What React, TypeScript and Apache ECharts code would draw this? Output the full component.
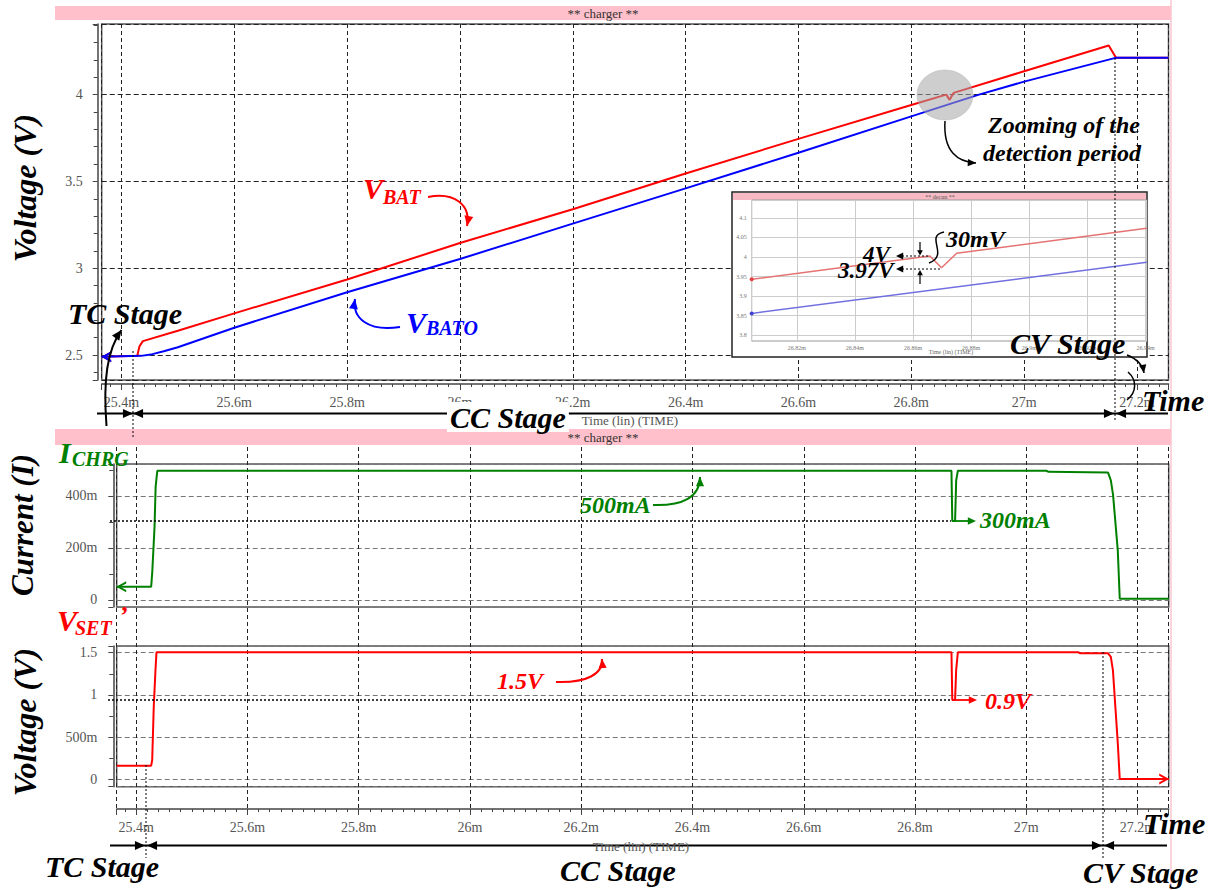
import { useEffect, useRef } from 'react';
import * as echarts from 'echarts';

// ---------- data ----------
const TIME_MIN = 25.365;
const TIME_MAX = 27.256;
const TIME_STEP = 0.2;

// top panel: battery voltages (V) vs time (ms)
const vbatTime = [25.365, 25.428, 25.432, 25.438, 25.5, 25.6, 25.8, 26.0, 26.2, 26.4, 26.6, 26.8, 26.862, 26.868, 26.875, 27.0, 27.15, 27.163, 27.256];
const vbatValue = [2.49, 2.495, 2.55, 2.58, 2.64, 2.74, 2.935, 3.145, 3.34, 3.546, 3.745, 3.94, 4.0, 3.97, 4.01, 4.135, 4.283, 4.212, 4.212];
const vbatoTime = [25.365, 25.435, 25.455, 25.475, 25.5, 25.6, 25.8, 26.0, 26.2, 26.4, 26.6, 26.8, 26.92, 27.0, 27.162, 27.256];
const vbatoValue = [2.49, 2.495, 2.505, 2.522, 2.545, 2.657, 2.862, 3.053, 3.257, 3.46, 3.665, 3.875, 4.0, 4.075, 4.212, 4.212];

// middle panel: charge current (A)
const ichrgTime = [25.365, 25.427, 25.429, 25.433, 25.435, 25.438, 26.8655, 26.867, 26.872, 26.874, 26.877, 27.036, 27.04, 27.147, 27.152, 27.156, 27.1645, 27.168, 27.256];
const ichrgValue = [0.051, 0.051, 0.11, 0.28, 0.436, 0.497, 0.497, 0.304, 0.304, 0.46, 0.497, 0.497, 0.493, 0.49, 0.46, 0.404, 0.19, 0.005, 0.005];

// bottom panel: VSET' (V)
const vsetTime = [25.365, 25.427, 25.4288, 25.4316, 25.4347, 25.4365, 26.8655, 26.867, 26.872, 26.874, 26.877, 27.094, 27.097, 27.147, 27.152, 27.1557, 27.1645, 27.168, 27.256];
const vsetValue = [0.161, 0.161, 0.229, 0.86, 1.295, 1.505, 1.505, 0.94, 0.94, 1.3, 1.505, 1.505, 1.493, 1.493, 1.45, 1.295, 0.427, 0.003, 0.003];

// inset: zoom of the detection period
const INSET_T_MIN = 26.8045;
const INSET_T_MAX = 26.9404;
const insetRedTime = [26.8045, 26.8658, 26.8698, 26.875, 26.9404];
const insetRedValue = [3.943, 4.0026, 3.9726, 4.0095, 4.0736];
const insetBlueTime = [26.8045, 26.9404];
const insetBlueValue = [3.8556, 3.9864];

// axis ranges
const topY = { min: 2.356, max: 4.407, step: 0.5 };
const curY = { min: -0.027, max: 0.523, step: 0.2 };
const setY = { min: -0.088, max: 1.58, step: 0.5 };
const insetY = { min: 3.785, max: 4.146, step: 0.05 };

// ---------- helpers ----------
const SERIF = '"Liberation Serif", "Times New Roman", serif';
const zip = (t: number[], v: number[]) => t.map((x, i) => [x, v[i]]);
const fmtTime = (v: number) => `${parseFloat(v.toFixed(2))}m`;
const fmtSI = (v: number) => {
  if (Math.abs(v) < 1e-9) return '0';
  if (Math.abs(v) < 1) return `${Math.round(v * 1000)}m`;
  return `${parseFloat(v.toFixed(3))}`;
};

const LEFT_ARROW = 'path://M10,0L1,5L10,10L10,8L4.5,5L10,2Z';
const RIGHT_ARROW = 'path://M0,0L9,5L0,10L0,8L5.5,5L0,2Z';

function withEndArrow(points: number[][], where: 'start' | 'end', color: string) {
  return points.map((p, i) => {
    const isTarget = where === 'start' ? i === 0 : i === points.length - 1;
    if (!isTarget) return { value: p };
    return {
      value: p,
      symbol: where === 'start' ? LEFT_ARROW : RIGHT_ARROW,
      symbolSize: [10, 11],
      symbolOffset: [where === 'start' ? 4.5 : -4.5, 0],
      itemStyle: { color },
    };
  });
}

function buildGraphics() {
  const G: any[] = [];
  const T = (x: number, y: number, text: string, size: number, color = '#000', o: any = {}) =>
    G.push({
      type: 'text', x, y, z: o.z ?? 50, rotation: o.rot ?? 0,
      style: {
        text, fill: color, fontFamily: SERIF, fontSize: size,
        fontWeight: o.weight ?? 'bold', fontStyle: o.style ?? 'italic',
        align: o.align ?? 'left', verticalAlign: o.va ?? 'middle',
        backgroundColor: o.bg, padding: o.pad,
      },
    });
  const L = (x1: number, y1: number, x2: number, y2: number, color = '#000', width = 1.5, dash?: number[], z = 40) =>
    G.push({ type: 'line', z, shape: { x1, y1, x2, y2 }, style: { stroke: color, lineWidth: width, lineDash: dash } });
  const head = (x: number, y: number, deg: number, color = '#000', size = 9, spread = 0.42, z = 41) => {
    const a = (deg * Math.PI) / 180;
    G.push({
      type: 'polygon', z,
      shape: { points: [[x, y], [x - size * Math.cos(a - spread), y - size * Math.sin(a - spread)], [x - size * Math.cos(a + spread), y - size * Math.sin(a + spread)]] },
      style: { fill: color },
    });
  };
  const curve = (x1: number, y1: number, c1x: number, c1y: number, c2x: number, c2y: number, x2: number, y2: number, color: string, width = 2, arrow = true, size = 10) => {
    G.push({ type: 'bezierCurve', z: 40, shape: { x1, y1, cpx1: c1x, cpy1: c1y, cpx2: c2x, cpy2: c2y, x2, y2 }, style: { stroke: color, lineWidth: width, fill: null } });
    if (arrow) head(x2, y2, (Math.atan2(y2 - c2y, x2 - c2x) * 180) / Math.PI, color, size);
  };

  // frame edge
  L(1171, 0, 1171, 890, '#f6c9d0', 1.5, undefined, 1);

  // pink title bars
  G.push({ type: 'rect', z: 1, shape: { x: 55, y: 6, width: 1116, height: 14 }, style: { fill: '#ffc0cb' } });
  T(603, 13.5, '** charger **', 13, '#333', { weight: 'normal', style: 'normal', align: 'center' });
  G.push({ type: 'rect', z: 1, shape: { x: 55, y: 429, width: 1116, height: 16 }, style: { fill: '#ffc0cb' } });
  T(603, 437.5, '** charger **', 13, '#333', { weight: 'normal', style: 'normal', align: 'center' });

  // ----- top panel annotations -----
  T(25, 188, 'Voltage (V)', 32, '#000', { rot: Math.PI / 2, align: 'center' });
  T(68, 313, 'TC Stage', 30);
  curve(106.5, 426, 103, 380, 107, 350, 121.5, 330, '#000', 2, true, 11);

  T(363, 188, 'V', 30, '#f00');
  T(383, 197, 'BAT', 20, '#f00');
  curve(428, 197, 455, 192, 471, 205, 467, 226, '#f00', 2, true, 11);

  T(406, 322, 'V', 30, '#00f');
  T(426, 328, 'BATO', 20, '#00f');
  curve(400, 327, 368, 332, 352, 318, 355, 299, '#00f', 2, true, 11);

  // detection circle
  G.push({ type: 'ellipse', z: 6, shape: { cx: 945, cy: 95, rx: 28, ry: 25 }, style: { fill: 'rgba(165,165,165,0.55)', stroke: 'rgba(150,150,150,0.6)', lineWidth: 0.5 } });
  T(988, 125, 'Zooming of the', 24);
  T(983, 153, 'detection period', 24);
  curve(945, 121, 943, 152, 958, 162, 976, 163, '#000', 1.5, true, 9);

  // stage arrows (top)
  L(97, 413.5, 1168, 413.5, '#000', 2);
  head(133, 413.5, 0, '#000', 11);
  head(133, 413.5, 180, '#000', 11);
  head(1114, 413.5, 0, '#000', 11);
  head(1116, 413.5, 180, '#000', 11);
  L(133, 351, 133, 437, '#000', 1, [2, 2]);
  L(1115, 58, 1115, 421, '#000', 1, [2, 2]);
  T(447, 417, 'CC Stage', 30, '#000', { bg: '#fff', pad: [0, 3, 0, 3] });
  T(630, 420, 'Time (lin) (TIME)', 13, '#555', { weight: 'normal', style: 'normal', align: 'center', z: 51 });
  T(1010, 343, 'CV Stage', 30);
  curve(1127, 355, 1140, 360, 1143, 367, 1144, 373, '#000', 1.5, true, 9);
  curve(1128, 372, 1137, 380, 1137, 392, 1127, 400, '#000', 1.5, false);
  T(1142, 400, 'Time', 30);

  // ----- inset frame -----
  G.push({ type: 'rect', z: 9, shape: { x: 732, y: 192, width: 415, height: 165 }, style: { fill: '#fff', stroke: '#222', lineWidth: 1.5 } });
  G.push({ type: 'rect', z: 9, shape: { x: 733, y: 193, width: 413, height: 7 }, style: { fill: '#f7b9c4' } });
  T(940, 196.5, '** decun **', 6, '#555', { weight: 'normal', style: 'normal', align: 'center', z: 13 });
  T(951, 352, 'Time (lin) (TIME)', 6, '#666', { weight: 'normal', style: 'normal', align: 'center', z: 13 });
  // inset annotations
  T(863, 254, '4V', 23, '#000', { z: 60 });
  T(838, 270, '3.97V', 23, '#000', { z: 60 });
  T(946, 239, '30mV', 24, '#000', { z: 60 });
  L(898, 256, 928, 256, '#000', 1.2, [2, 2], 60);
  head(896, 256, 180, '#000', 8, 0.45, 61);
  L(898, 269, 942, 269, '#000', 1.2, [2, 2], 60);
  head(896, 269, 180, '#000', 8, 0.45, 61);
  L(920, 242, 920, 254, '#000', 1.2, undefined, 60);
  head(920, 255.5, 90, '#000', 6, 0.5, 61);
  L(920, 284, 920, 272, '#000', 1.2, undefined, 60);
  head(920, 270, -90, '#000', 6, 0.5, 61);
  G.push({ type: 'bezierCurve', z: 60, shape: { x1: 944, y1: 232, cpx1: 924, cpy1: 236, cpx2: 950, cpy2: 255, x2: 929, y2: 263 }, style: { stroke: '#000', lineWidth: 1.5, fill: null } });

  // ----- middle panel annotations -----
  T(22, 525, 'Current (I)', 31, '#000', { rot: Math.PI / 2, align: 'center' });
  T(59, 452, 'I', 30, '#008000');
  T(72, 459, 'CHRG', 20, '#008000');
  L(110, 521, 951, 521, '#000', 1.5, [2, 2], 30);
  T(580, 505, '500mA', 24, '#008000');
  curve(653, 505, 683, 506, 700, 497, 700, 477, '#008000', 2, true, 10);
  L(953, 521, 970, 521, '#008000', 1.8);
  head(976, 521, 0, '#008000', 9);
  T(980, 520, '300mA', 24, '#008000');

  // ----- bottom panel annotations -----
  T(25, 722, 'Voltage (V)', 32, '#000', { rot: Math.PI / 2, align: 'center' });
  T(57, 620, 'V', 30, '#f00');
  T(75, 628, 'SET', 20, '#f00');
  T(119, 615, '’', 26, '#f00');
  L(108, 700, 952, 700, '#000', 1.5, [2, 2], 30);
  T(497, 681, '1.5V', 24, '#f00');
  curve(556, 682, 587, 683, 603, 674, 602, 659, '#f00', 2, true, 10);
  L(954, 700, 971, 700, '#f00', 1.8);
  head(977, 700, 0, '#f00', 9);
  T(985, 701, '0.9V', 24, '#f00');

  // stage arrows (bottom)
  L(146, 765, 146, 858, '#000', 1, [2, 2]);
  L(1103, 652, 1103, 858, '#000', 1, [2, 2]);
  L(110, 845.5, 1167, 845.5, '#000', 2);
  head(145, 845.5, 0, '#000', 11);
  head(147, 845.5, 180, '#000', 11);
  head(1102, 845.5, 0, '#000', 11);
  head(1104, 845.5, 180, '#000', 11);
  T(641, 846, 'Time (lin) (TIME)', 13, '#555', { weight: 'normal', style: 'normal', align: 'center', z: 51 });
  T(45, 866, 'TC Stage', 30);
  T(560, 870, 'CC Stage', 30);
  T(1083, 872, 'CV Stage', 30);
  T(1143, 823, 'Time', 30);
  return G;
}

function buildOption(): any {
  const labelBase = { color: '#555', fontFamily: SERIF, fontSize: 14 };
  const hiddenAxis = (gridIndex: number, min: number, max: number) => ({
    gridIndex, type: 'value', min, max, show: false,
  });
  const timeAxis = (gridIndex: number, offset: number) => ({
    gridIndex, type: 'value', min: TIME_MIN, max: TIME_MAX, minInterval: TIME_STEP, maxInterval: TIME_STEP,
    position: 'bottom', offset,
    axisLine: { show: true, onZero: false, lineStyle: { color: '#444', width: 1.5 } },
    axisTick: { show: true, length: 6, lineStyle: { color: '#444' } },
    minorTick: { show: true, splitNumber: 10, length: 3, lineStyle: { color: '#444' } },
    axisLabel: { ...labelBase, margin: 11, formatter: fmtTime, showMinLabel: false, showMaxLabel: false },
    splitLine: { show: true, lineStyle: { color: '#222', type: [4, 3], width: 1 } },
  });
  const valueAxis = (gridIndex: number, r: { min: number; max: number; step: number }, minorSplit: number, gridColor: string, offset: number, margin: number) => ({
    gridIndex, type: 'value', min: r.min, max: r.max, minInterval: r.step, maxInterval: r.step, offset,
    axisLine: { show: true, onZero: false, lineStyle: { color: '#444', width: 1.5 } },
    axisTick: { show: true, length: 5, lineStyle: { color: '#444' } },
    minorTick: { show: true, splitNumber: minorSplit, length: 4, lineStyle: { color: '#444' } },
    axisLabel: { ...labelBase, margin, formatter: fmtSI, showMinLabel: false, showMaxLabel: false },
    splitLine: { show: true, lineStyle: { color: gridColor, type: [5, 3], width: 1.2 } },
  });

  return {
    animation: false,
    backgroundColor: '#fff',
    grid: [
      { left: 101.7, top: 24, width: 1066.8, height: 356, show: true, borderColor: '#555', borderWidth: 1.5, backgroundColor: '#fff' },
      { left: 116.7, top: 447, width: 1052, height: 362, show: false },
      { left: 116.7, top: 464, width: 1052, height: 143, show: true, borderColor: '#555', borderWidth: 1.5 },
      { left: 116.7, top: 646, width: 1052, height: 140.7, show: true, borderColor: '#555', borderWidth: 1.5 },
      { left: 751.7, top: 200, width: 395, height: 141, show: true, z: 10, borderColor: '#999', borderWidth: 1, backgroundColor: '#fff' },
    ],
    xAxis: [
      timeAxis(0, 4),
      timeAxis(1, 0),
      hiddenAxis(2, TIME_MIN, TIME_MAX),
      hiddenAxis(3, TIME_MIN, TIME_MAX),
      {
        gridIndex: 4, type: 'value', min: INSET_T_MIN, max: INSET_T_MAX, minInterval: 0.02, maxInterval: 0.02, z: 11,
        axisLine: { show: false }, axisTick: { show: false },
        axisLabel: { color: '#777', fontFamily: SERIF, fontSize: 6, margin: 4, formatter: fmtTime, showMinLabel: false, showMaxLabel: false },
        splitLine: { show: true, lineStyle: { color: '#ccc', width: 1 } },
      },
    ],
    yAxis: [
      valueAxis(0, topY, 5, '#222', 4, 15),
      hiddenAxis(1, 0, 1),
      valueAxis(2, curY, 2, '#777', 3.4, 16),
      valueAxis(3, setY, 2, '#777', 3.4, 16),
      {
        gridIndex: 4, type: 'value', min: insetY.min, max: insetY.max, minInterval: insetY.step, maxInterval: insetY.step, z: 11,
        axisLine: { show: false }, axisTick: { show: false },
        axisLabel: { color: '#777', fontFamily: SERIF, fontSize: 6, margin: 5, formatter: (v: number) => `${parseFloat(v.toFixed(2))}`, showMinLabel: false, showMaxLabel: false },
        splitLine: { show: true, lineStyle: { color: '#ccc', width: 1 } },
      },
    ],
    series: [
      { name: 'VBAT', type: 'line', xAxisIndex: 0, yAxisIndex: 0, data: withEndArrow(zip(vbatTime, vbatValue), 'start', '#f00'), symbol: 'none', showSymbol: true, lineStyle: { color: '#f00', width: 2 }, itemStyle: { color: '#f00' }, z: 3, silent: true },
      { name: 'VBATO', type: 'line', xAxisIndex: 0, yAxisIndex: 0, data: withEndArrow(zip(vbatoTime, vbatoValue), 'start', '#00f'), symbol: 'none', showSymbol: true, lineStyle: { color: '#00f', width: 2 }, itemStyle: { color: '#00f' }, z: 4, silent: true },
      { name: 'dummy', type: 'line', xAxisIndex: 1, yAxisIndex: 1, data: [], symbol: 'none', silent: true },
      { name: 'ICHRG', type: 'line', xAxisIndex: 2, yAxisIndex: 2, data: withEndArrow(zip(ichrgTime, ichrgValue), 'start', '#008000'), symbol: 'none', showSymbol: true, lineStyle: { color: '#008000', width: 2 }, itemStyle: { color: '#008000' }, z: 4, silent: true },
      { name: 'VSET', type: 'line', xAxisIndex: 3, yAxisIndex: 3, data: withEndArrow(zip(vsetTime, vsetValue), 'end', '#f00'), symbol: 'none', showSymbol: true, lineStyle: { color: '#f00', width: 2 }, itemStyle: { color: '#f00' }, z: 4, silent: true },
      { name: 'inset VBAT', type: 'line', xAxisIndex: 4, yAxisIndex: 4, data: zip(insetRedTime, insetRedValue).map((p, i) => (i === 0 ? { value: p, symbol: 'circle', symbolSize: 4 } : { value: p })), symbol: 'none', showSymbol: true, lineStyle: { color: '#e57373', width: 1.5 }, itemStyle: { color: '#e04040' }, z: 12, silent: true },
      { name: 'inset VBATO', type: 'line', xAxisIndex: 4, yAxisIndex: 4, data: zip(insetBlueTime, insetBlueValue).map((p, i) => (i === 0 ? { value: p, symbol: 'circle', symbolSize: 4 } : { value: p })), symbol: 'none', showSymbol: true, lineStyle: { color: '#7070e0', width: 1.5 }, itemStyle: { color: '#4040d0' }, z: 12, silent: true },
    ],
    graphic: { elements: buildGraphics() },
  };
}

export default function App() {
  const ref = useRef<HTMLDivElement>(null);
  useEffect(() => {
    if (!ref.current) return;
    const chart = echarts.init(ref.current, null, { renderer: 'svg' });
    chart.setOption(buildOption());
    return () => chart.dispose();
  }, []);
  return <div ref={ref} style={{ position: 'absolute', left: 0, top: 0, width: 1219, height: 890, background: '#fff' }} />;
}
